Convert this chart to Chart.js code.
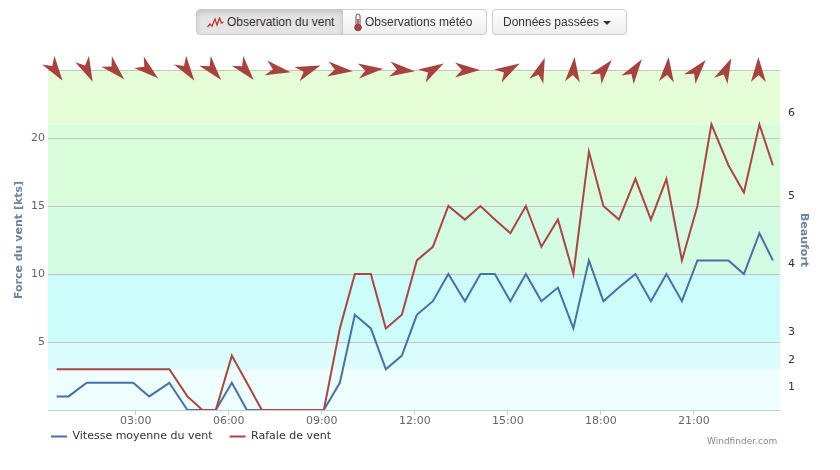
<!DOCTYPE html>
<html>
<head>
<meta charset="utf-8">
<script src="https://cdn.jsdelivr.net/npm/chart.js@4.4.1/dist/chart.umd.min.js"></script>
<style>
  body { margin: 0; background: #fff; width: 840px; height: 470px; overflow: hidden; position: relative; }
  #wrap { position: absolute; left: 0; top: 0; width: 840px; height: 470px; }
  .btn { position: absolute; top: 9px; height: 26px; box-sizing: border-box; border: 1px solid #ccc;
         font: 12px "Liberation Sans", Arial, sans-serif; color: #333; line-height: 24px; white-space: nowrap;
         background: linear-gradient(#ffffff, #eeeeee); z-index: 2; }
  .btn svg { position: absolute; }
  #b1 { left: 196px; width: 147px; border-radius: 4px 0 0 4px; background: #e4e4e4;
        box-shadow: inset 0 3px 5px rgba(0,0,0,0.12); padding-left: 30px; }
  #b2 { left: 342px; width: 145px; border-radius: 0 4px 4px 0; padding-left: 22px; }
  #b3 { left: 492px; width: 135px; border-radius: 4px; padding-left: 10px; }
  .caret { display: inline-block; width: 0; height: 0; margin-left: 4px; vertical-align: middle;
           border-top: 4px solid #333; border-left: 4px solid transparent; border-right: 4px solid transparent; }
  #wf { position: absolute; left: 707px; top: 436px; font: 9px "DejaVu Sans", sans-serif; color: #888; z-index: 2; }
</style>
</head>
<body>
<div class="btn" id="b1">
  <svg width="17" height="11" style="left:10px;top:7px"><polyline points="0.5,10 3,7 5,9 8,2 10,8 12.5,1 14.5,6 16.5,5" fill="none" stroke="#cc3333" stroke-width="1.3"/></svg>
  Observation du vent</div>
<div class="btn" id="b2">
  <svg width="10" height="19" style="left:10px;top:3px"><rect x="3" y="1" width="4" height="12" rx="2" fill="#fff" stroke="#555" stroke-width="1"/><circle cx="5" cy="14.5" r="3.3" fill="#c33" stroke="#555" stroke-width="1"/><rect x="4.2" y="6" width="1.6" height="7" fill="#c33"/></svg>
  Observations météo</div>
<div class="btn" id="b3">Données passées<span class="caret"></span></div>
<div id="wf">Windfinder.com</div>
<div id="wrap"><canvas id="chart" width="840" height="470"></canvas></div>
<script>
const times = ['00:27', '00:50', '01:25', '02:55', '03:26', '04:05', '04:40', '05:09', '05:35', '06:06',
               '06:35', '07:04', '09:04', '09:35', '10:04', '10:35', '11:04', '11:35', '12:04', '12:35',
               '13:05', '13:37', '14:07', '14:35', '15:05', '15:35', '16:05', '16:37', '17:07', '17:37',
               '18:05', '18:35', '19:07', '19:37', '20:07', '20:37', '21:07', '21:34', '22:07', '22:37',
               '23:07', '23:33'];
const speed = [1, 1, 2, 2, 1, 2, 0, 0, 0, 2,
               0, 0, 0, 2, 7, 6, 3, 4, 7, 8,
               10, 8, 10, 10, 8, 10, 8, 9, 6, 11,
               8, 9, 10, 8, 10, 8, 11, 11, 11, 10,
               13, 11];
const gust = [3, 3, 3, 3, 3, 3, 1, 0, 0, 4,
              2, 0, 0, 6, 10, 10, 6, 7, 11, 12,
              15, 14, 15, 14, 13, 15, 12, 14, 10, 19,
              15, 14, 17, 14, 17, 11, 15, 21, 18, 16,
              21, 18];

// wind direction arrows (direction the wind comes from, degrees)
const arrowTimes = ['00:24', '01:26', '02:20', '03:24', '04:39', '05:29', '06:32', '07:35', '08:34', '09:35',
                    '10:34', '11:35', '12:34', '13:41', '15:01', '16:03', '17:07', '18:05', '19:05', '20:09',
                    '21:07', '22:02', '23:05'];
const arrowDirs = [325, 335, 315, 310, 325, 320, 320, 280, 250, 275,
                   265, 275, 240, 270, 240, 200, 185, 220, 215, 185,
                   220, 205, 180];

const xTickLabels = ['03:00', '06:00', '09:00', '12:00', '15:00', '18:00', '21:00'];
const bftLabels = ['1', '2', '3', '4', '5', '6'];
const bftAt = [1.7, 3.7, 5.7, 10.7, 15.7, 21.8];   // kts where each Beaufort label sits

const bands = [
  { from: 0, to: 3, color: '#effefe' },
  { from: 3, to: 5, color: '#dcfdfd' },
  { from: 5, to: 10, color: '#cdfdfb' },
  { from: 10, to: 15, color: '#d3fce3' },
  { from: 15, to: 21, color: '#d9fddb' },
  { from: 21, to: 25, color: '#e5fed8' }
];

function hrs(s) {
  const p = s.split(':');
  return +p[0] + p[1] / 60;
}

const FONT = 'DejaVu Sans';

const bandPlugin = {
  id: 'bands',
  beforeDraw(chart) {
    const { ctx, chartArea: a, scales: { y } } = chart;
    ctx.save();
    bands.forEach(b => {
      const t = y.getPixelForValue(b.to), btm = y.getPixelForValue(b.from);
      ctx.fillStyle = b.color;
      ctx.fillRect(a.left, t, a.right - a.left, btm - t);
    });
    ctx.restore();
  }
};

const arrowPlugin = {
  id: 'arrows',
  afterDraw(chart) {
    const { ctx, chartArea: a, scales: { x } } = chart;
    ctx.save();
    ctx.fillStyle = '#a8423f';
    arrowTimes.forEach((t, i) => {
      const px = x.getPixelForValue(hrs(t));
      ctx.save();
      ctx.translate(px, a.top);
      ctx.rotate((arrowDirs[i] + 90) * Math.PI / 180);
      ctx.beginPath();
      ctx.moveTo(13, 0);
      ctx.lineTo(-12, -7.5);
      ctx.lineTo(-5, 0);
      ctx.lineTo(-12, 7.5);
      ctx.closePath();
      ctx.fill();
      ctx.restore();
    });
    ctx.restore();
  }
};

// move the legend under the x axis labels like the original
const legendPos = {
  id: 'legendPos',
  afterLayout(chart) {
    chart.legend.left = 34;
    chart.legend.top = 414;
  }
};

new Chart(document.getElementById('chart'), {
  type: 'line',
  data: {
    datasets: [{
      label: 'Vitesse moyenne du vent',
      data: times.map((t, i) => ({ x: hrs(t), y: speed[i] })),
      borderColor: '#4572a7',
      backgroundColor: '#4572a7',
      borderWidth: 2,
      pointRadius: 0,
      order: 1
    }, {
      label: 'Rafale de vent',
      data: times.map((t, i) => ({ x: hrs(t), y: gust[i] })),
      borderColor: '#aa4643',
      backgroundColor: '#aa4643',
      borderWidth: 2,
      pointRadius: 0,
      order: 0
    }]
  },
  options: {
    responsive: false,
    animation: false,
    layout: { padding: { top: 70, left: 10, right: 27, bottom: 0 } },
    scales: {
      x: {
        type: 'linear',
        min: 0.17,
        max: 23.78,
        afterBuildTicks: s => { s.ticks = xTickLabels.map(l => ({ value: hrs(l) })); },
        afterFit: s => { s.height = 22; },
        ticks: {
          callback: (v, i) => xTickLabels[i],
          color: '#666',
          font: { family: FONT, size: 11 },
          padding: 0,
          maxRotation: 0
        },
        grid: { drawOnChartArea: false, tickLength: 5, color: '#c0d0e0' },
        border: { color: '#c0d0e0' }
      },
      y: {
        min: 0,
        max: 25,
        afterFit: s => { s.width = 38; },
        ticks: {
          stepSize: 5,
          callback: v => (v === 0 || v === 25) ? '' : v,
          color: '#666',
          font: { family: FONT, size: 11 },
          padding: 3
        },
        grid: {
          drawTicks: false,
          color: c => c.tick.value === 0 ? 'rgba(0,0,0,0)' : '#c4c4c4'
        },
        border: { display: false },
        title: {
          display: true,
          text: 'Force du vent [kts]',
          color: '#6b84a0',
          font: { family: FONT, size: 11, weight: 'bold' },
          padding: { top: 3, bottom: 0 }
        }
      },
      y1: {
        position: 'right',
        min: 0,
        max: 25,
        afterBuildTicks: s => { s.ticks = bftAt.map(v => ({ value: v })); },
        afterFit: s => { s.width = 33; },
        ticks: {
          callback: (v, i) => bftLabels[i],
          color: '#333',
          font: { family: FONT, size: 11 },
          padding: 8
        },
        grid: { display: false, drawTicks: false },
        border: { display: false },
        title: {
          display: true,
          text: 'Beaufort',
          color: '#6b84a0',
          font: { family: FONT, size: 11, weight: 'bold' },
          padding: { top: 3, bottom: 0 }
        }
      }
    },
    plugins: {
      tooltip: { enabled: false },
      legend: {
        position: 'bottom',
        align: 'start',
        labels: {
          usePointStyle: true,
          pointStyle: 'line',
          pointStyleWidth: 16,
          padding: 17,
          color: '#333',
          font: { family: FONT, size: 11 },
          sort: (a, b) => a.datasetIndex - b.datasetIndex
        }
      }
    }
  },
  plugins: [bandPlugin, arrowPlugin, legendPos]
});
</script>
</body>
</html>
